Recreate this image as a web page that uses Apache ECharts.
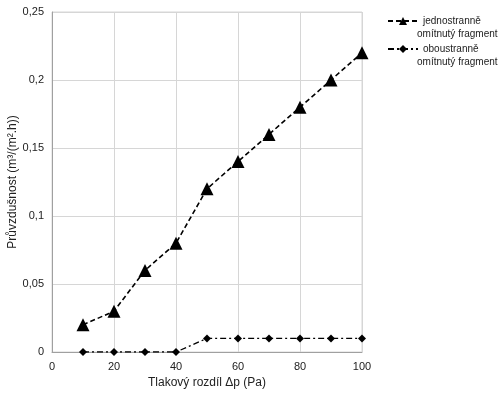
<!DOCTYPE html>
<html><head><meta charset="utf-8">
<script src="https://cdn.jsdelivr.net/npm/echarts@6/dist/echarts.min.js"></script>
<style>html,body{margin:0;padding:0;background:#fff}#c{width:500px;height:396px}</style>
</head><body><div id="c"></div>
<script>
const xValues = [10, 20, 30, 40, 50, 60, 70, 80, 90, 100];
const oneSided = [0.02, 0.03, 0.06, 0.08, 0.12, 0.14, 0.16, 0.18, 0.20, 0.22];
const twoSided = [0, 0, 0, 0, 0.01, 0.01, 0.01, 0.01, 0.01, 0.01];
const seriesNames = ['jednostranně\nomítnutý fragment', 'oboustranně\nomítnutý fragment'];
const xTitle = 'Tlakový rozdíl Δp (Pa)';
const yTitle = 'Průvzdušnost (m³/(m².h))';

const fmt = v => String(+v.toFixed(2)).replace('.', ',');
const chart = echarts.init(document.getElementById('c'), null, {renderer: 'canvas'});
const font = 'Liberation Sans, Arial, sans-serif';
const gridCol = '#d6d6d6';
chart.setOption({
  animation: false,
  textStyle: {fontFamily: font},
  grid: {left: 52, right: 138, top: 12, bottom: 44, outerBoundsMode: 'none', containLabel: false,
         show: true, borderColor: gridCol, borderWidth: 1},
  legend: {
    orient: 'vertical', left: 382, top: 11, itemWidth: 30, itemHeight: 10, itemGap: 18,
    textStyle: {fontSize: 10, color: '#222', fontFamily: font},
    formatter: name => name.split('\n')[0],
    data: seriesNames
  },
  graphic: seriesNames.map((n, i) => ({
    type: 'text', left: 417, top: 29 + i * 28,
    style: {text: n.split('\n')[1], fontSize: 10, fill: '#222', fontFamily: font}
  })),
  xAxis: {
    type: 'value', min: 0, max: 100, interval: 20,
    name: xTitle, nameLocation: 'middle', nameGap: 25, nameMoveOverlap: false,
    nameTextStyle: {fontSize: 12, color: '#222'},
    axisLine: {show: true, lineStyle: {color: '#a0a0a0'}},
    axisTick: {show: false},
    axisLabel: {fontSize: 11, color: '#222', margin: 9},
    splitLine: {show: true, lineStyle: {color: gridCol, width: 1}}
  },
  yAxis: {
    type: 'value', min: 0, max: 0.25, interval: 0.05,
    name: yTitle, nameLocation: 'middle', nameGap: 33, nameMoveOverlap: false,
    nameTextStyle: {fontSize: 12, color: '#222'},
    axisLine: {show: true, lineStyle: {color: '#a0a0a0'}},
    axisTick: {show: false},
    axisLabel: {fontSize: 11, color: '#222', margin: 8, formatter: fmt},
    splitLine: {show: true, lineStyle: {color: gridCol, width: 1}}
  },
  series: [
    {
      name: seriesNames[0], type: 'line',
      data: xValues.map((x, i) => [x, oneSided[i]]),
      symbol: 'triangle', symbolSize: 13,
      itemStyle: {color: '#000'},
      lineStyle: {color: '#000', width: 1.6, type: [5, 3]}
    },
    {
      name: seriesNames[1], type: 'line',
      data: xValues.map((x, i) => [x, twoSided[i]]),
      symbol: 'diamond', symbolSize: 8,
      itemStyle: {color: '#000'},
      lineStyle: {color: '#000', width: 1.3, type: [6, 3, 2, 3]}
    }
  ]
});
</script></body></html>
